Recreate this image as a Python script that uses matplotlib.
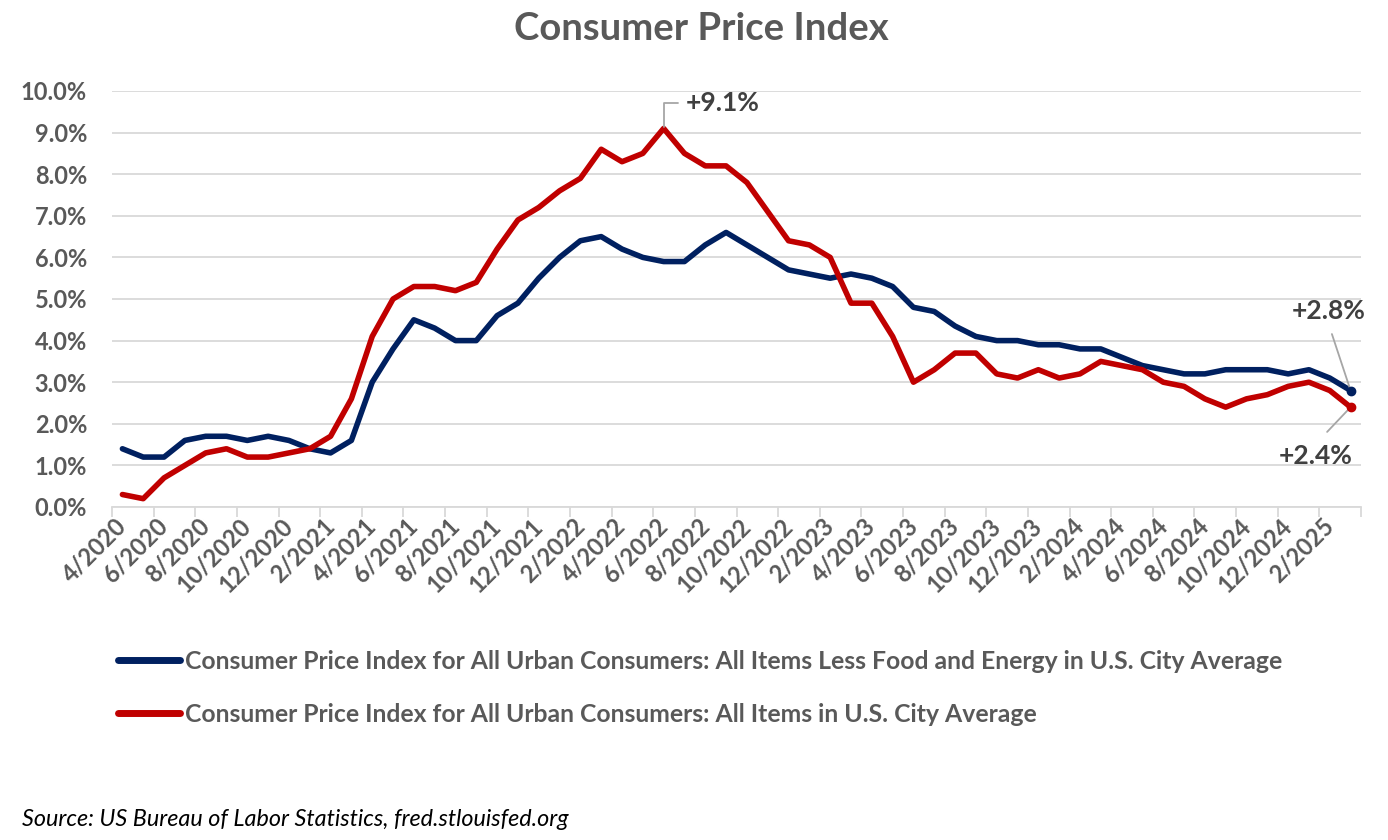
import matplotlib
matplotlib.use("Agg")
import matplotlib.pyplot as plt
import numpy as np

# year-over-year change in %, monthly from 4/2020 to 3/2025
core_cpi = [1.4, 1.2, 1.2, 1.6, 1.7, 1.7, 1.6, 1.7, 1.6,
            1.4, 1.3, 1.6, 3.0, 3.8, 4.5, 4.3, 4.0, 4.0, 4.6, 4.9, 5.5,
            6.0, 6.4, 6.5, 6.2, 6.0, 5.9, 5.9, 6.3, 6.6, 6.3, 6.0, 5.7,
            5.6, 5.5, 5.6, 5.5, 5.3, 4.8, 4.7, 4.35, 4.1, 4.0, 4.0, 3.9,
            3.9, 3.8, 3.8, 3.6, 3.4, 3.3, 3.2, 3.2, 3.3, 3.3, 3.3, 3.2,
            3.3, 3.1, 2.8]
all_items_cpi = [0.3, 0.2, 0.7, 1.0, 1.3, 1.4, 1.2, 1.2, 1.3,
                 1.4, 1.7, 2.6, 4.1, 5.0, 5.3, 5.3, 5.2, 5.4, 6.2, 6.9, 7.2,
                 7.6, 7.9, 8.6, 8.3, 8.5, 9.1, 8.5, 8.2, 8.2, 7.8, 7.1, 6.4,
                 6.3, 6.0, 4.9, 4.9, 4.1, 3.0, 3.3, 3.7, 3.7, 3.2, 3.1, 3.3,
                 3.1, 3.2, 3.5, 3.4, 3.3, 3.0, 2.9, 2.6, 2.4, 2.6, 2.7, 2.9,
                 3.0, 2.8, 2.4]
tick_labels = ["4/2020", "6/2020", "8/2020", "10/2020", "12/2020",
               "2/2021", "4/2021", "6/2021", "8/2021", "10/2021", "12/2021",
               "2/2022", "4/2022", "6/2022", "8/2022", "10/2022", "12/2022",
               "2/2023", "4/2023", "6/2023", "8/2023", "10/2023", "12/2023",
               "2/2024", "4/2024", "6/2024", "8/2024", "10/2024", "12/2024",
               "2/2025"]

core_name = "Consumer Price Index for All Urban Consumers: All Items Less Food and Energy in U.S. City Average"
all_name = "Consumer Price Index for All Urban Consumers: All Items in U.S. City Average"

BLUE = "#002060"
RED = "#C00000"
GRID = "#D9D9D9"
TEXT = "#595959"
DARK = "#404040"
LEADER = "#A6A6A6"

plt.rcParams["font.family"] = ["Lato", "DejaVu Sans"]

fig = plt.figure(figsize=(13.88, 8.4), dpi=100)
ax = fig.add_axes([112 / 1388, 1 - 507 / 840, (1361 - 112) / 1388, (507 - 91) / 840])

x = np.arange(len(core_cpi))
ax.plot(x, core_cpi, color=BLUE, lw=4.0, label=core_name,
        solid_capstyle="round", solid_joinstyle="round", zorder=3)
ax.plot(x, all_items_cpi, color=RED, lw=4.0, label=all_name,
        solid_capstyle="round", solid_joinstyle="round", zorder=3)
# end markers
ax.plot(x[-1:], core_cpi[-1:], "o", color=BLUE, ms=6, zorder=4)
ax.plot(x[-1:], all_items_cpi[-1:], "o", color=RED, ms=6, zorder=4)

ax.set_xlim(-0.5, len(x) - 0.5)
ax.set_ylim(0, 10)

# y axis
ax.set_yticks(np.arange(0, 10.01, 1))
ax.set_yticklabels([f"{v:.1f}%" for v in np.arange(0, 10.01, 1)])
ax.tick_params(axis="y", length=0, pad=18, labelsize=17, labelcolor=TEXT)
for lbl in ax.get_yticklabels():
    lbl.set_fontweight("bold")
ax.grid(axis="y", color=GRID, lw=1.3, zorder=0)

# x axis: tick marks between categories, labels on every 2nd category
ax.set_xticks(np.arange(-0.5, len(x), 2))
ax.set_xticklabels([])
ax.tick_params(axis="x", which="major", length=7, width=1.3, color=GRID)
ax.set_xticks(np.arange(0, len(x), 2), minor=True)
ax.set_xticklabels(tick_labels, minor=True, rotation=45, ha="right", va="center",
                   rotation_mode="anchor", fontsize=17, fontweight="bold", color=TEXT)
ax.tick_params(axis="x", which="minor", length=0, pad=11)

for side in ["top", "right", "left"]:
    ax.spines[side].set_visible(False)
ax.spines["bottom"].set_color(GRID)
ax.spines["bottom"].set_linewidth(1.3)

# annotations
peak = int(np.argmax(all_items_cpi))
ax.annotate(f"+{all_items_cpi[peak]:.1f}%", xy=(peak, all_items_cpi[peak]),
            xytext=(16, 18), textcoords="offset points", ha="left", va="center",
            fontsize=19, fontweight="bold", color=DARK,
            arrowprops=dict(arrowstyle="-", color=LEADER, lw=1.3, shrinkA=4, shrinkB=1,
                            relpos=(0, 0.5),
                            connectionstyle="angle,angleA=0,angleB=90,rad=0"))
ax.annotate(f"+{core_cpi[-1]:.1f}%", xy=(x[-1], core_cpi[-1]),
            xytext=(-16, 57), textcoords="offset points", ha="center", va="center",
            fontsize=19, fontweight="bold", color=DARK,
            arrowprops=dict(arrowstyle="-", color=LEADER, lw=1.3, shrinkA=6, shrinkB=2,
                            relpos=(0.5, 0)))
ax.annotate(f"+{all_items_cpi[-1]:.1f}%", xy=(x[-1], all_items_cpi[-1]),
            xytext=(-25, -35), textcoords="offset points", ha="center", va="center",
            fontsize=19, fontweight="bold", color=DARK,
            arrowprops=dict(arrowstyle="-", color=LEADER, lw=1.3, shrinkA=9, shrinkB=2,
                            relpos=(0.5, 1)))

fig.text(701 / 1388, 1 - 29 / 840, "Consumer Price Index", ha="center", va="center",
         fontsize=27.5, fontweight="bold", color=TEXT)

leg = ax.legend(loc="upper left", bbox_to_anchor=(118 / 1388, 1 - 650 / 840),
                bbox_transform=fig.transFigure, frameon=False, fontsize=17.8,
                handlelength=2.5, handletextpad=0.2, labelspacing=1.2,
                borderaxespad=0, borderpad=0)
for t in leg.get_texts():
    t.set_color(TEXT)
    t.set_fontweight("bold")
for h in leg.get_lines():
    h.set_linewidth(5)
    h.set_solid_capstyle("round")

fig.text(22 / 1388, 1 - 820 / 840, "Source: US Bureau of Labor Statistics, fred.stlouisfed.org",
         ha="left", va="center", fontsize=16.8, fontstyle="italic", color="black")

fig.savefig("out.png", dpi=100)
